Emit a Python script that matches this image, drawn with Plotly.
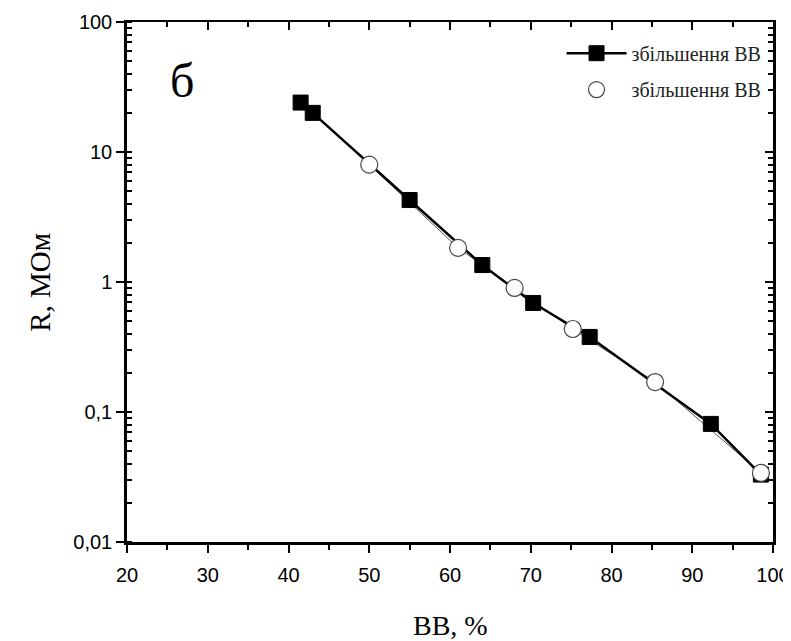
import plotly.graph_objects as go

# Data
x_sq = [41.5, 43.0, 55.0, 64.0, 70.3, 77.3, 92.3, 98.5]
r_sq = [24.0, 20.0, 4.27, 1.35, 0.69, 0.378, 0.081, 0.033]
x_ci = [50.0, 61.0, 68.0, 75.2, 85.4, 98.5]
r_ci = [8.0, 1.83, 0.90, 0.435, 0.170, 0.034]

name_sq = "збільшення ВВ"
name_ci = "збільшення ВВ"

ytick_vals = [0.01, 0.1, 1, 10, 100]
ytick_text = ["0,01", "0,1", "1", "10", "100"]
xtick_vals = [20, 30, 40, 50, 60, 70, 80, 90, 100]

serif = "Liberation Serif"
sans = "Liberation Sans"

fig = go.Figure()

# thin line of the open-circle series (not in legend)
fig.add_trace(go.Scatter(x=x_ci, y=r_ci, mode="lines",
                         line=dict(color="#555555", width=1),
                         showlegend=False, hoverinfo="skip"))
fig.add_trace(go.Scatter(x=x_sq, y=r_sq, mode="lines+markers", name=name_sq,
                         legend="legend",
                         line=dict(color="black", width=2.5),
                         marker=dict(symbol="square", size=15, color="black",
                                     line=dict(color="black", width=1))))
fig.add_trace(go.Scatter(x=x_ci, y=r_ci, mode="markers", name=name_ci,
                         legend="legend2",
                         marker=dict(symbol="circle", size=17, color="white",
                                     line=dict(color="#444444", width=1.2))))
# dummy trace to render mirrored inner-tick axes
fig.add_trace(go.Scatter(x=[None], y=[None], xaxis="x2", yaxis="y2",
                         showlegend=False, hoverinfo="skip"))

tickfont = dict(family=sans, size=20, color="black")
legfont = dict(family=serif, size=20, color="#222222")

fig.update_layout(
    width=791, height=641,
    margin=dict(l=119, r=26, t=14, b=107),
    paper_bgcolor="white", plot_bgcolor="white",
    showlegend=True,
    legend=dict(x=0.99, y=0.94, xanchor="right", yanchor="middle",
                bgcolor="rgba(0,0,0,0)", borderwidth=0, font=legfont,
                itemwidth=60),
    legend2=dict(x=0.99, y=0.87, xanchor="right", yanchor="middle",
                 bgcolor="rgba(0,0,0,0)", borderwidth=0, font=legfont,
                 itemwidth=60),
    xaxis=dict(range=[20, 100], tickvals=xtick_vals, ticks="outside",
               ticklen=8, tickwidth=2, tickcolor="black",
               minor=dict(dtick=5, ticks="outside", ticklen=5, tickwidth=2,
                          tickcolor="black"),
               showline=True, linecolor="black", linewidth=2.5,
               showgrid=False, zeroline=False, tickfont=tickfont,
               ticklabelstandoff=5, automargin=False),
    yaxis=dict(type="log", range=[-2, 2], tickvals=ytick_vals, ticktext=ytick_text,
               ticks="outside", ticklen=8, tickwidth=2, tickcolor="black",
               minor=dict(dtick="D1", ticks="inside", ticklen=5, tickwidth=1.5,
                          tickcolor="black"),
               showline=True, linecolor="black", linewidth=2.5,
               showgrid=False, zeroline=False, tickfont=tickfont,
               automargin=False),
    xaxis2=dict(overlaying="x", side="top", range=[20, 100], tickvals=xtick_vals,
                ticks="inside", ticklen=8, tickwidth=2, tickcolor="black",
                minor=dict(dtick=5, ticks="inside", ticklen=5, tickwidth=2,
                           tickcolor="black"),
                showticklabels=False, showline=True, linecolor="black", linewidth=2,
                showgrid=False, zeroline=False, automargin=False),
    yaxis2=dict(overlaying="y", side="right", type="log", range=[-2, 2],
                tickvals=ytick_vals, ticks="inside", ticklen=8, tickwidth=2,
                tickcolor="black",
                minor=dict(dtick="D1", ticks="inside", ticklen=5, tickwidth=1.5,
                           tickcolor="black"),
                showticklabels=False, showline=True, linecolor="black", linewidth=2.5,
                showgrid=False, zeroline=False, automargin=False),
    annotations=[
        dict(text="б", xref="paper", yref="paper",
             x=0.085, y=0.888, xanchor="center", yanchor="middle",
             showarrow=False, font=dict(family=serif, size=48, color="black")),
        dict(text="ВВ, %", xref="paper", yref="paper", x=0.5, y=-0.16,
             xanchor="center", yanchor="middle", showarrow=False,
             font=dict(family=serif, size=28, color="black")),
        dict(text="R, МОм", xref="paper", yref="paper", x=-0.135, y=0.5,
             xanchor="center", yanchor="middle", textangle=-90, showarrow=False,
             font=dict(family=serif, size=29, color="black")),
    ],
)

fig.write_html("out.html")
